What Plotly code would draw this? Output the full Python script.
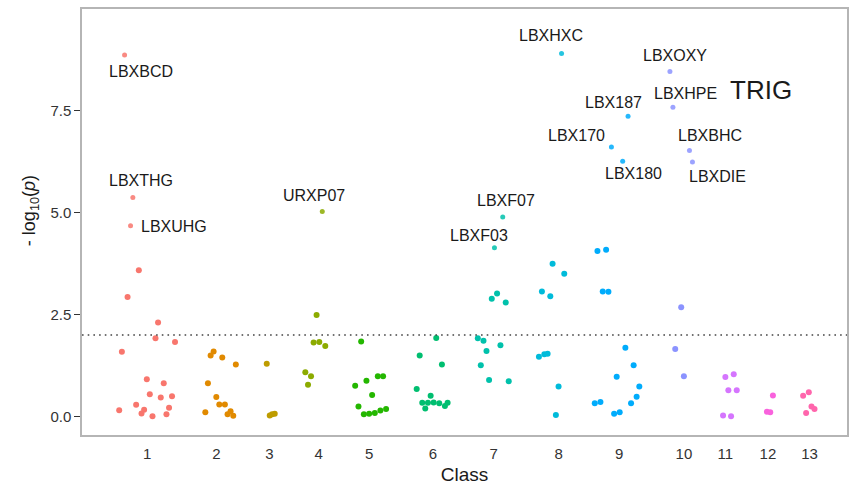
import plotly.graph_objects as go

# ---------------- data ----------------
classes = [str(i) for i in range(1, 14)]
class_tick_pos = [147.3, 216.7, 270, 319.3, 370, 434, 495, 560, 620.8, 685.7, 727.3, 770, 811.7]
colors = ["#F8766D", "#E18A00", "#BE9C00", "#8CAB00", "#24B700", "#00BE70", "#00C1AB",
          "#00BBDA", "#00ACFC", "#8B93FF", "#D575FE", "#F962DD", "#FF65AC"]

c1_x = [139, 127.7, 158.3, 155.7, 175.3, 122, 147, 164, 150, 161, 172.3, 136.3, 119.3, 144.3, 141.7, 169.3, 166.7, 152.7]
c1_y = [3.59, 2.93, 2.31, 1.92, 1.83, 1.59, 0.92, 0.82, 0.55, 0.47, 0.50, 0.29, 0.16, 0.17, 0.08, 0.22, 0.06, 0.01]
c2_x = [214, 211, 222.7, 236.3, 208.3, 216.7, 219.7, 225.3, 205.7, 231, 228, 233.7]
c2_y = [1.60, 1.50, 1.45, 1.28, 0.82, 0.48, 0.30, 0.30, 0.11, 0.13, 0.06, 0.02]
c3_x = [267.3, 270.3, 272.7, 275.3]
c3_y = [1.30, 0.03, 0.06, 0.07]
c4_x = [317.3, 314.3, 320, 326, 306, 311.7, 308.7]
c4_y = [2.49, 1.82, 1.83, 1.73, 1.09, 0.99, 0.78]
c5_x = [362, 356, 367.3, 378.7, 384, 373, 359.3, 364.7, 370, 375.7, 381.3, 387]
c5_y = [1.84, 0.76, 0.88, 0.99, 0.99, 0.53, 0.25, 0.06, 0.07, 0.09, 0.15, 0.19]
c6_x = [437.3, 420.7, 443, 417.7, 431.7, 423.3, 429, 434.7, 440.3, 448.7, 446, 426.3]
c6_y = [1.93, 1.50, 1.28, 0.68, 0.51, 0.34, 0.34, 0.35, 0.33, 0.34, 0.26, 0.20]
c7_x = [498.3, 493, 507, 479, 484.7, 501.7, 487.7, 482, 490.3, 510]
c7_y = [3.02, 2.89, 2.80, 1.92, 1.86, 1.75, 1.61, 1.26, 0.90, 0.87]
c8_x = [554, 565.7, 543.3, 551.7, 540.3, 545.7, 549, 560, 557.3]
c8_y = [3.75, 3.50, 3.07, 2.95, 1.47, 1.53, 1.54, 0.74, 0.04]
c9_x = [599, 607.7, 604.3, 610, 627, 635.3, 618.3, 641, 638.3, 596.3, 602, 632.7, 615.7, 621.3]
c9_y = [4.06, 4.09, 3.07, 3.06, 1.69, 1.26, 0.98, 0.74, 0.49, 0.33, 0.36, 0.33, 0.07, 0.11]
c10_x = [683, 677, 685.7]
c10_y = [2.68, 1.66, 0.99]
c11_x = [727.3, 735.7, 730.3, 738.7, 725, 733]
c11_y = [0.97, 1.04, 0.65, 0.65, 0.03, 0.01]
c12_x = [775, 769, 772.3]
c12_y = [0.52, 0.12, 0.11]
c13_x = [805.3, 811, 813.7, 816.7, 808.3]
c13_y = [0.51, 0.60, 0.25, 0.19, 0.09]

lab_names = ["LBXBCD", "LBXTHG", "LBXUHG", "URXP07", "LBXF07", "LBXF03", "LBXHXC",
             "LBX187", "LBX170", "LBX180", "LBXOXY", "LBXHPE", "LBXBHC", "LBXDIE"]
lab_class = [1, 1, 1, 4, 7, 7, 8, 9, 9, 9, 10, 10, 10, 10]
lab_x = [124.7, 133, 130.7, 323, 504, 495.7, 563, 629.7, 613, 624.3, 671.7, 674.7, 691.3, 694.3]
lab_y = [8.86, 5.37, 4.68, 5.03, 4.89, 4.14, 8.90, 7.36, 6.61, 6.26, 8.46, 7.58, 6.52, 6.24]
lab_text_x = [141, 141, 174, 315, 507, 480, 552, 615, 578, 635, 677, 687, 712, 719]
lab_text_y = [8.46, 5.78, 4.67, 5.41, 5.29, 4.45, 9.33, 7.71, 6.88, 5.95, 8.84, 7.93, 6.90, 5.88]

threshold = 2.0
title_text = "TRIG"
title_pos = (763, 8.01)

xs = [c1_x, c2_x, c3_x, c4_x, c5_x, c6_x, c7_x, c8_x, c9_x, c10_x, c11_x, c12_x, c13_x]
ys = [c1_y, c2_y, c3_y, c4_y, c5_y, c6_y, c7_y, c8_y, c9_y, c10_y, c11_y, c12_y, c13_y]

FONT = "Liberation Sans, Arial, Helvetica, sans-serif"

fig = go.Figure()
for i in range(13):
    fig.add_trace(go.Scatter(x=xs[i], y=ys[i], mode="markers",
                             marker=dict(color=colors[i], size=6, line=dict(width=0)),
                             showlegend=False, hoverinfo="skip"))

for k in range(len(lab_names)):
    fig.add_trace(go.Scatter(x=[lab_x[k]], y=[lab_y[k]], mode="markers",
                             marker=dict(color=colors[lab_class[k] - 1], size=5, opacity=0.85,
                                         line=dict(width=0)),
                             showlegend=False, hoverinfo="skip"))
    fig.add_annotation(x=lab_text_x[k], y=lab_text_y[k], text=lab_names[k], showarrow=False,
                       xanchor="center", yanchor="middle",
                       font=dict(family=FONT, size=16, color="#1a1a1a"))

fig.add_annotation(x=title_pos[0], y=title_pos[1], text=title_text, showarrow=False,
                   xanchor="center", yanchor="middle",
                   font=dict(family=FONT, size=26, color="#1a1a1a"))

fig.add_shape(type="line", xref="paper", x0=0, x1=1, yref="y", y0=threshold, y1=threshold,
              line=dict(color="#444444", width=1.6, dash="1.6px,4.1px"))

fig.add_annotation(xref="paper", x=-0.0678, yref="y", y=5.04, text="- log<sub>10</sub>(<i>p</i>)",
                   textangle=-90, showarrow=False, xanchor="center", yanchor="middle",
                   font=dict(family=FONT, size=18, color="#1a1a1a"))

fig.update_layout(
    width=851, height=487,
    margin=dict(l=82, r=2, t=9, b=52),
    paper_bgcolor="white", plot_bgcolor="white",
    font=dict(family=FONT, color="#333333"),
    xaxis=dict(range=[82, 849.3], tickmode="array", tickvals=class_tick_pos, ticktext=classes,
               showgrid=False, zeroline=False, showline=True, mirror=True,
               linecolor="#b5b5b5", linewidth=1.5,
               ticks="outside", ticklen=4, tickcolor="rgba(0,0,0,0)",
               tickfont=dict(family=FONT, size=15, color="#333333"),
               title=dict(text="Class", font=dict(family=FONT, size=19, color="#1a1a1a"), standoff=7)),
    yaxis=dict(range=[-0.449, 9.99], tickmode="array", tickvals=[0, 2.5, 5, 7.5],
               ticktext=["0.0", "2.5", "5.0", "7.5"],
               showgrid=False, zeroline=False, showline=True, mirror=True,
               linecolor="#b5b5b5", linewidth=1.5,
               ticks="outside", ticklen=6, tickwidth=1.3, tickcolor="#333333",
               tickfont=dict(family=FONT, size=15, color="#333333")),
)

fig.write_html("out.html")
